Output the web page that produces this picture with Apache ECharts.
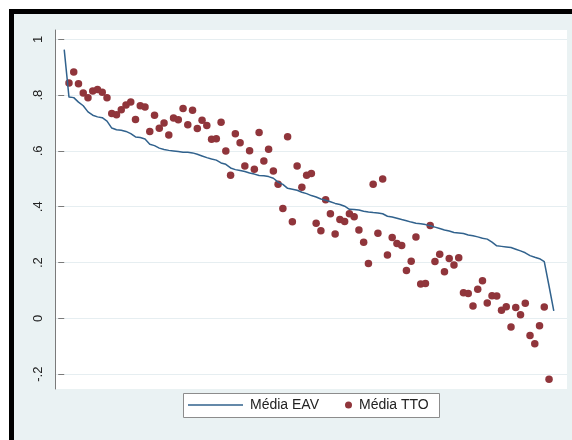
<!DOCTYPE html>
<html>
<head>
<meta charset="utf-8">
<script src="https://cdn.jsdelivr.net/npm/echarts@6/dist/echarts.min.js"></script>
<style>
  html, body { margin: 0; padding: 0; background: #ffffff; overflow: hidden; width: 572px; height: 440px; }
  #frame { position: absolute; left: 9px; top: 9px; width: 600px; height: 460px;
           border-top: 5px solid #000; border-left: 5px solid #000; background: #eaf2f3; }
  #chart { position: absolute; left: 0; top: 0; width: 572px; height: 440px; }
</style>
</head>
<body>
<div id="frame"></div>
<div id="chart"></div>
<script>
// Media EAV (line), ranked states 0..103
const mediaEAV = [
  0.963, 0.793, 0.791, 0.775, 0.762, 0.740, 0.728, 0.722, 0.719, 0.707,
  0.682, 0.676, 0.674, 0.670, 0.662, 0.650, 0.648, 0.643, 0.624, 0.619,
  0.610, 0.605, 0.602, 0.600, 0.598, 0.595, 0.595, 0.593, 0.588, 0.582,
  0.576, 0.571, 0.567, 0.557, 0.552, 0.539, 0.533, 0.530, 0.526, 0.521,
  0.517, 0.512, 0.511, 0.508, 0.502, 0.488, 0.480, 0.466, 0.463, 0.459,
  0.452, 0.447, 0.440, 0.435, 0.428, 0.423, 0.418, 0.412, 0.408, 0.402,
  0.391, 0.390, 0.388, 0.384, 0.381, 0.379, 0.378, 0.375, 0.366, 0.363,
  0.359, 0.354, 0.350, 0.345, 0.341, 0.339, 0.336, 0.332, 0.327, 0.322,
  0.317, 0.313, 0.308, 0.306, 0.304, 0.299, 0.296, 0.292, 0.287, 0.284,
  0.273, 0.260, 0.258, 0.256, 0.254, 0.248, 0.242, 0.235, 0.225, 0.219,
  0.214, 0.203, 0.116, 0.027
];
// Media TTO (dots), states 1..102
const mediaTTO = [
  0.843, 0.883, 0.841, 0.808, 0.791, 0.815, 0.820, 0.810, 0.791, 0.734,
  0.730, 0.748, 0.765, 0.775, 0.713, 0.762, 0.757, 0.670, 0.728, 0.681,
  0.700, 0.657, 0.718, 0.712, 0.752, 0.694, 0.746, 0.680, 0.710, 0.691,
  0.642, 0.644, 0.703, 0.600, 0.513, 0.662, 0.629, 0.546, 0.601, 0.534,
  0.666, 0.564, 0.606, 0.528, 0.481, 0.394, 0.651, 0.346, 0.546, 0.470,
  0.513, 0.519, 0.341, 0.314, 0.425, 0.375, 0.302, 0.354, 0.347, 0.375,
  0.364, 0.317, 0.273, 0.197, 0.481, 0.305, 0.499, 0.227, 0.290, 0.268,
  0.261, 0.172, 0.205, 0.292, 0.123, 0.125, 0.333, 0.204, 0.230, 0.167,
  0.215, 0.191, 0.217, 0.092, 0.089, 0.044, 0.104, 0.135, 0.055, 0.081,
  0.080, 0.029, 0.042, -0.031, 0.039, 0.013, 0.054, -0.061, -0.091, -0.026,
  0.041, -0.218
];
const yTickValues = [-0.2, 0, 0.2, 0.4, 0.6, 0.8, 1];
const yTickLabels = ['-.2', '0', '.2', '.4', '.6', '.8', '1'];
const seriesNames = ['Média EAV', 'Média TTO'];

const eavData = mediaEAV.map((v, i) => [i, v]);
const ttoData = mediaTTO.map((v, i) => [i + 1, v]);

const FONT = "'Liberation Sans', Arial, sans-serif";
const LINE_COLOR = '#31628d';
const DOT_COLOR = '#90353b';
const chart = echarts.init(document.getElementById('chart'), null, { renderer: 'canvas' });
chart.setOption({
  animation: false,
  backgroundColor: 'transparent',
  grid: [
    { left: 55, right: 5, top: 30, bottom: 51, show: true, backgroundColor: '#ffffff', borderWidth: 0 },
    { left: 55, right: 5, top: 39.3, bottom: 65.8 }
  ],
  xAxis: [
    { gridIndex: 0, type: 'value', show: false, min: 0, max: 1 },
    { gridIndex: 1, type: 'value', show: false, min: -1.94, max: 105.78 }
  ],
  yAxis: [
    { gridIndex: 0, type: 'value', min: 0, max: 1,
      axisLine: { show: true, lineStyle: { color: '#7a7a7a', width: 1 } },
      axisTick: { show: false }, axisLabel: { show: false }, splitLine: { show: false } },
    { gridIndex: 1, type: 'value', min: -0.2, max: 1, interval: 0.2,
      axisLine: { show: false },
      axisTick: { show: true, length: 6, lineStyle: { color: '#7a7a7a', width: 1 } },
      axisLabel: {
        rotate: 90, margin: 10, fontSize: 13, fontFamily: FONT, color: '#222',
        formatter: function (v) {
          const k = yTickValues.findIndex(t => Math.abs(t - v) < 1e-6);
          return k >= 0 ? yTickLabels[k] : '';
        }
      },
      splitLine: { show: true, lineStyle: { color: '#e6eef1', width: 1 } } }
  ],
  graphic: [
    { type: 'rect', z: 0, shape: { x: 183.5, y: 393.5, width: 256, height: 24 },
      style: { fill: '#ffffff', stroke: '#8c8c8c', lineWidth: 1 } }
  ],
  legend: [
    { data: [{ name: seriesNames[0], icon: 'rect', itemStyle: { color: LINE_COLOR } }],
      left: 188, top: 398, itemWidth: 55, itemHeight: 1.5, itemGap: 0,
      textStyle: { fontSize: 14, fontFamily: FONT, color: '#222', padding: [0, 0, 0, 2] }, padding: 0, z: 10 },
    { data: [{ name: seriesNames[1], icon: 'circle' }], left: 345, top: 398, itemWidth: 7, itemHeight: 7,
      textStyle: { fontSize: 14, fontFamily: FONT, color: '#222', padding: [0, 0, 0, 2] }, padding: 0, z: 10 }
  ],
  series: [
    { name: seriesNames[0], type: 'line', xAxisIndex: 1, yAxisIndex: 1, data: eavData,
      symbol: 'none', clip: false, lineStyle: { color: LINE_COLOR, width: 1.5 },
      itemStyle: { color: LINE_COLOR } },
    { name: seriesNames[1], type: 'scatter', xAxisIndex: 1, yAxisIndex: 1, data: ttoData,
      symbol: 'circle', symbolSize: 7.5, clip: false, itemStyle: { color: DOT_COLOR, opacity: 1 } }
  ]
});
</script>
</body>
</html>
